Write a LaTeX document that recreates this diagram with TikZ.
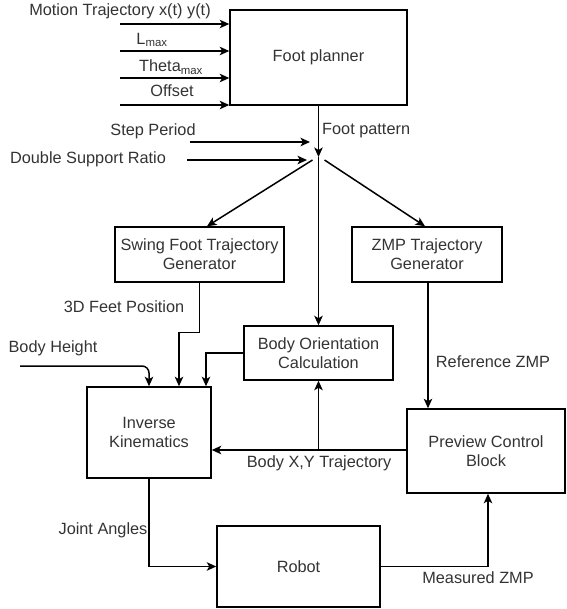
\documentclass[tikz,border=0pt]{standalone}
\usepackage{fontspec}
\setmainfont{Liberation Sans}
\usetikzlibrary{arrows.meta,calc}
\definecolor{txt}{HTML}{333333}
\begin{document}
\begin{tikzpicture}[x=1pt,y=-1pt,
  box/.style={draw=black,line width=1.5pt,text=txt,align=center,inner sep=0pt,
    font=\fontsize{16.3}{19}\selectfont},
  lbl/.style={text=txt,inner sep=0pt,font=\fontsize{16.3}{19}\selectfont},
  conn/.style={line width=1.5pt,draw=black},
  arr/.style={conn,-{Stealth[length=9.5pt,width=8.5pt,inset=2.5pt]}}
]
\useasboundingbox (0,0) rectangle (566,609);
% boxes
\node[box,minimum width=177pt,minimum height=95pt] (fp) at (318.5,57.5) {Foot planner};
\node[box,minimum width=169pt,minimum height=55pt] (sw) at (199.5,254.5) {Swing Foot Trajectory\\Generator};
\node[box,minimum width=150pt,minimum height=55pt] (zmp) at (427,254.5) {ZMP Trajectory\\Generator};
\node[box,minimum width=149pt,minimum height=54pt] (bo) at (318.5,353) {Body Orientation\\Calculation};
\node[box,minimum width=124pt,minimum height=91pt] (ik) at (149,432.5) {Inverse\\Kinematics};
\node[box,minimum width=158pt,minimum height=84pt] (pc) at (486,451) {Preview Control\\Block};
\node[box,minimum width=163pt,minimum height=81pt] (rb) at (298.5,566.5) {Robot};
% labels
\node[lbl] (lmt) at (120,11) {Motion Trajectory x(t) y(t)};
\node[lbl] (llm) at (152,40) {L\textsubscript{max}};
\node[lbl] (lth) at (171,67) {Theta\textsubscript{max}};
\node[lbl] (lof) at (172,91) {Offset};
\node[lbl] (lsp) at (153,131) {Step Period};
\node[lbl] (lds) at (88,159) {Double Support Ratio};
\node[lbl,anchor=west] (lfp) at (322,131) {Foot pattern};
\node[lbl] (l3d) at (124,307) {3D Feet Position};
\node[lbl] (lbh) at (53,348) {Body Height};
\node[lbl] (lrz) at (493,362) {Reference ZMP};
\node[lbl] (lxy) at (319,463) {Body X,Y Trajectory};
\node[lbl] (lja) at (103,530) {Joint Angles};
\node[lbl] (lmz) at (478,578) {Measured ZMP};
% coordinates
\coordinate (in1) at (120,24);
\coordinate (in2) at (120,51);
\coordinate (in3) at (120,78);
\coordinate (in4) at (120,105);
\coordinate (sp0) at (190,142);
\coordinate (sp1) at (310,142);
\coordinate (ds0) at (187,160);
\coordinate (ds1) at (307,160);
\coordinate (J) at (318.5,157);
\coordinate (bh0) at (20,366);
\coordinate (xy) at (318.5,450);
% inputs to foot planner
\draw[arr] (in1) -- (in1 -| fp.west);
\draw[arr] (in2) -- (in2 -| fp.west);
\draw[arr] (in3) -- (in3 -| fp.west);
\draw[arr] (in4) -- (in4 -| fp.west);
\draw[arr] (sp0) -- (sp1);
\draw[arr] (ds0) -- (ds1);
\draw[arr] (fp.south) -- (J);
\draw[arr] ($(J)+(-6,3)$) -- ($(sw.north)+(7.5,0)$);
\draw[arr] ($(J)+(6,3)$) -- ($(zmp.north)+(-2,0)$);
\draw[arr] (J) -- (bo.north);
% swing to IK
\draw[arr] (sw.south) |- ($(ik.north)+(30,-54)$) -- ($(ik.north)+(30,0)$);
% body height
\draw[arr,rounded corners=7pt] (bh0) -- (bh0 -| ik.north) -- (ik.north);
% BO to IK
\draw[arr] (bo.west) -| ($(ik.north)+(57,0)$);
% ZMP to preview
\draw[arr] (zmp.south -| 428,0) -- (pc.north -| 428,0);
% preview to IK and BO
\draw[conn] (pc.west |- xy) -- (xy);
\draw[arr] (xy) -- (xy -| ik.east);
\draw[arr] (xy) -- (bo.south);
% IK to robot
\draw[arr] (ik.south) |- (rb.west);
% robot to preview
\draw[arr] (rb.east) -| ($(pc.south)+(2,0)$);
\end{tikzpicture}
\end{document}
